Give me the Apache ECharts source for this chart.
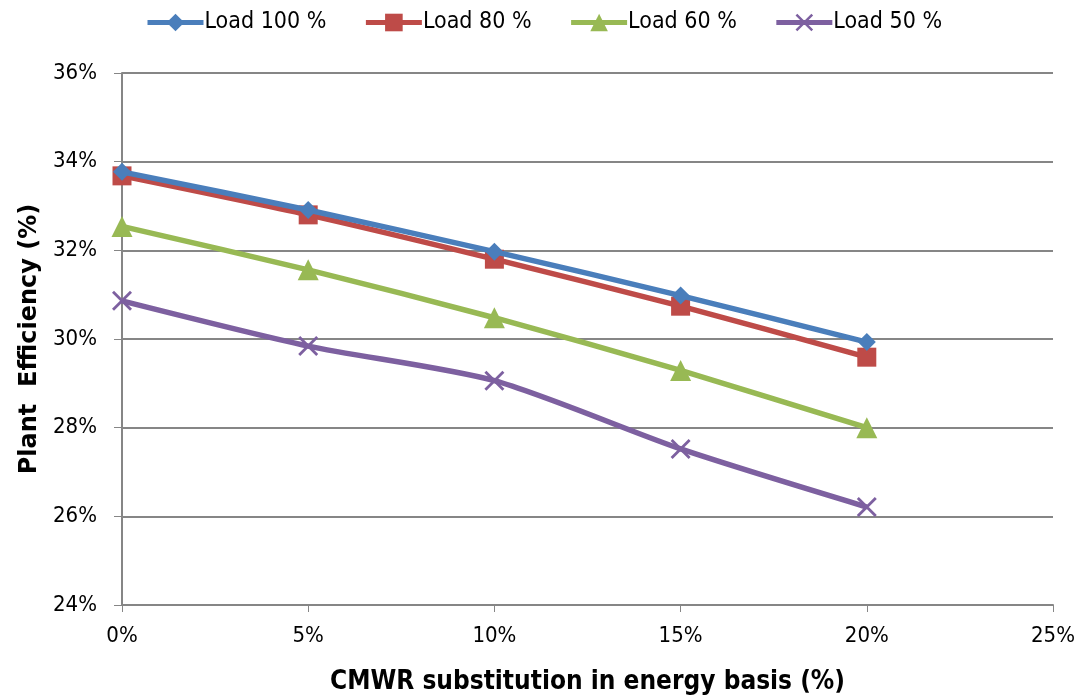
<!DOCTYPE html>
<html><head><meta charset="utf-8">
<script src="https://cdn.jsdelivr.net/npm/echarts@6/dist/echarts.min.js"></script>
<style>html,body{margin:0;padding:0;background:#fff}#c{width:1081px;height:700px}</style>
</head><body><div id="c"></div>
<script>
const xValues = [0, 5, 10, 15, 20];
const load100 = [33.77, 32.91, 31.97, 30.98, 29.93];
const load80 = [33.68, 32.80, 31.80, 30.74, 29.59];
const load60 = [32.54, 31.56, 30.48, 29.29, 28.00];
const load50 = [30.86, 29.84, 29.06, 27.52, 26.21];
const seriesNames = ['Load 100 %', 'Load 80 %', 'Load 60 %', 'Load 50 %'];
const xTicks = {min: 0, max: 25, interval: 5};
const yTicks = {min: 24, max: 36, interval: 2};

const font = '"Liberation Sans Narrow","DejaVu Sans Condensed",sans-serif';
const colors = ['#4A7EBB', '#BE4B48', '#98B954', '#7D60A0'];
const xPath = 'path://M0,1L1,0L10,9L9,10Z M9,0L10,1L1,10L0,9Z';
const symbols = ['diamond', 'rect', 'triangle', xPath];
const sizes = [18, 19, 21, 20];
const datasets = [load100, load80, load60, load50];

const chart = echarts.init(document.getElementById('c'));
chart.setOption({
  animation: false,
  color: colors,
  textStyle: {fontFamily: font},
  legend: {
    top: 6, left: 140, itemGap: 37, itemWidth: 56, itemHeight: 22,
    lineStyle: {width: 5},
    textStyle: {fontSize: 23, color: '#000', fontFamily: font, padding: [0, 0, 0, -4]},
    data: seriesNames
  },
  grid: {left: 122, right: 28, top: 73, bottom: 95, outerBoundsMode: 'none', containLabel: false},
  xAxis: {
    type: 'value', min: xTicks.min, max: xTicks.max, interval: xTicks.interval,
    name: 'CMWR substitution in energy basis (%)', nameLocation: 'middle', nameGap: 64,
    nameTextStyle: {fontSize: 26, fontWeight: 'bold', color: '#000', fontFamily: font},
    axisLine: {lineStyle: {color: '#868686', width: 2}},
    axisTick: {show: true, length: 7, lineStyle: {color: '#868686', width: 1}},
    axisLabel: {formatter: '{value}%', fontSize: 22, color: '#000', margin: 20, fontFamily: font},
    splitLine: {show: false}
  },
  yAxis: {
    type: 'value', min: yTicks.min, max: yTicks.max, interval: yTicks.interval,
    name: 'Plant  Efficiency (%)', nameLocation: 'middle', nameGap: 80, nameRotate: 90,
    nameTextStyle: {fontSize: 24, fontWeight: 'bold', color: '#000', fontFamily: '"DejaVu Sans",sans-serif', padding: [0, 0, 0, 0]},
    axisLine: {show: true, lineStyle: {color: '#868686', width: 2}},
    axisTick: {show: true, length: 8, lineStyle: {color: '#868686', width: 1}},
    axisLabel: {formatter: '{value}%', fontSize: 22, color: '#000', margin: 25, fontFamily: font},
    splitLine: {show: true, lineStyle: {color: '#868686', width: 2}}
  },
  series: datasets.map((d, i) => ({
    name: seriesNames[i], type: 'line', smooth: 0.25,
    data: d.map((v, j) => [xValues[j], v]),
    symbol: symbols[i], symbolSize: sizes[i],
    lineStyle: {width: 5.5, color: colors[i]},
    itemStyle: {color: colors[i]},
    z: 10 - i
  }))
});
</script></body></html>
